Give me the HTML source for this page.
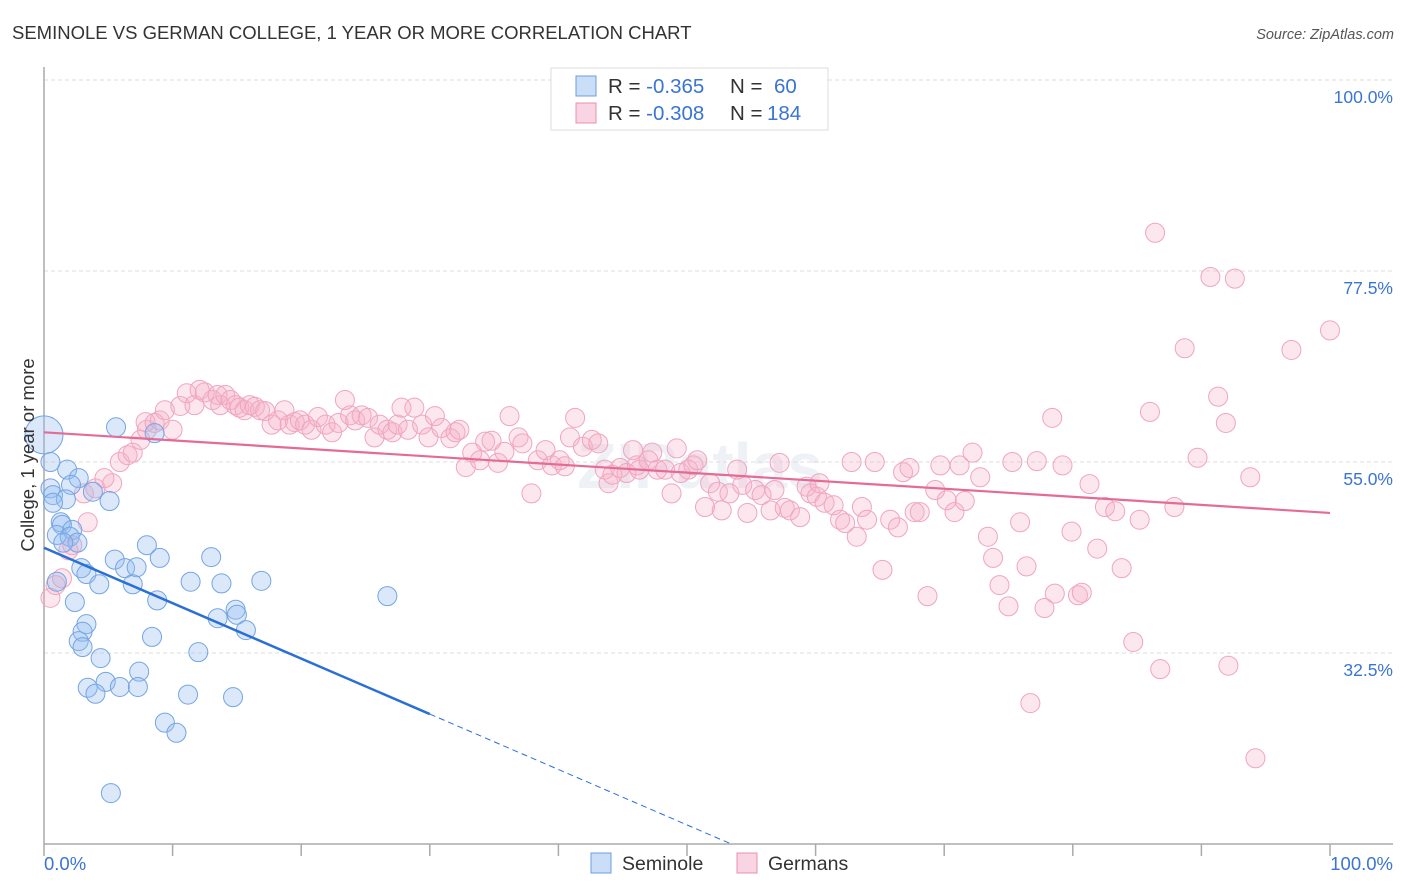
<!DOCTYPE html>
<html><head><meta charset="utf-8"><style>
body{margin:0;background:#fff;font-family:"Liberation Sans",sans-serif;}
svg{display:block}
</style></head><body>
<svg id="chart" width="1406" height="892" viewBox="0 0 1406 892">
<text x="12" y="39" font-size="18.5" fill="#333">SEMINOLE VS GERMAN COLLEGE, 1 YEAR OR MORE CORRELATION CHART</text>
<text x="1394" y="39" font-size="14.5" fill="#555" text-anchor="end" font-style="italic">Source: ZipAtlas.com</text>
<text x="700" y="488" font-size="64" fill="#eef1f5" text-anchor="middle" font-weight="bold">ZIPatlas</text>
<g id="grid"></g>
<g id="axes"></g>
<g id="pts"></g>
<g id="lines"></g>
<text x="34" y="455" font-size="18.5" fill="#333" text-anchor="middle" transform="rotate(-90 34 455)">College, 1 year or more</text>
<g>
<rect x="551" y="68" width="277" height="62" fill="#fff" stroke="#ddd"/>
<rect x="576" y="76" width="20" height="20" fill="rgba(150,190,240,0.5)" stroke="#6a9fe0"/>
<rect x="576" y="103" width="20" height="20" fill="rgba(244,170,198,0.5)" stroke="#e890ad"/>
<text x="608" y="93" font-size="20.5" fill="#333">R = <tspan fill="#3a74d4">-0.365</tspan><tspan x="730">N = </tspan><tspan x="774" fill="#3a74d4">60</tspan></text>
<text x="608" y="120" font-size="20.5" fill="#333">R = <tspan fill="#3a74d4">-0.308</tspan><tspan x="730">N = </tspan><tspan x="767" fill="#3a74d4">184</tspan></text>
</g>
<g>
<rect x="591" y="853" width="20" height="20" fill="rgba(150,190,240,0.5)" stroke="#6a9fe0"/>
<text x="622" y="870" font-size="19.5" fill="#333">Seminole</text>
<rect x="737" y="853" width="20" height="20" fill="rgba(244,170,198,0.5)" stroke="#e890ad"/>
<text x="768" y="870" font-size="19.5" fill="#333">Germans</text>
</g>
</svg>
<script>
const yTicks=[100,77.5,55,32.5];
const xTicks=[0,10,20,30,40,50,60,70,80,90,100];
const blueX=[0.0,5.6,8.6,0.5,1.8,2.7,0.5,0.7,2.1,1.7,3.8,5.1,0.7,1.3,1.4,1.0,2.2,2.0,2.6,1.5,8.0,5.5,9.0,13.0,6.3,7.2,2.9,3.3,11.4,13.8,16.9,4.3,6.9,1.0,2.4,8.8,14.9,15.0,13.5,15.7,3.3,3.0,2.7,3.0,8.4,12.0,4.4,7.4,4.8,3.4,4.0,5.9,7.3,11.2,14.7,9.4,10.3,5.2,26.7];
const blueY=[58.2,59.1,58.4,55.0,54.1,53.1,51.9,51.1,52.3,50.6,51.5,50.4,50.2,47.9,47.6,46.4,47.0,46.2,45.5,45.5,45.2,43.5,43.7,43.8,42.5,42.6,42.5,41.8,40.9,40.7,41.0,40.6,40.6,40.9,38.5,38.7,37.6,37.0,36.6,35.2,35.9,35.0,33.9,33.2,34.4,32.6,31.9,30.3,29.1,28.4,27.7,28.5,28.5,27.6,27.3,24.3,23.1,16.0,39.2];
const pinkX=[0.5,0.9,1.4,1.9,2.2,3.4,3.1,4.0,5.3,4.7,5.9,6.5,6.9,7.5,8.0,7.9,8.6,9.0,9.4,10.0,10.6,11.1,11.7,12.1,12.5,13.1,13.5,13.7,14.1,14.5,14.9,15.2,15.6,16.0,16.4,16.8,17.2,17.7,18.2,18.7,19.1,19.5,19.9,20.3,20.8,21.3,21.9,22.4,22.9,23.4,23.8,24.2,24.7,25.2,25.7,26.1,26.7,27.1,27.5,27.8,28.3,28.8,29.4,29.9,30.4,30.9,31.6,32.0,32.3,32.8,33.3,33.9,34.3,34.8,35.3,35.8,36.2,36.9,37.2,37.9,38.4,39.0,39.5,40.1,40.5,40.9,41.3,41.9,42.6,43.1,43.6,43.9,44.2,44.8,45.3,45.8,46.1,46.3,47.0,47.3,47.7,48.3,48.8,49.2,49.5,50.1,50.5,50.8,51.4,51.8,52.4,52.7,53.3,53.9,54.3,54.7,55.3,55.8,56.5,56.8,57.2,57.6,58.0,58.8,59.3,59.6,60.1,60.3,60.7,61.4,61.9,62.3,62.8,63.2,63.6,64.0,64.6,65.2,65.8,66.4,66.8,67.3,67.7,68.1,68.7,69.3,69.7,70.2,70.8,71.2,71.6,72.2,72.8,73.4,73.8,74.3,75.0,75.3,75.9,76.4,76.7,77.2,77.8,78.4,78.6,79.2,79.9,80.4,80.7,81.3,81.9,82.5,83.3,83.8,84.7,85.2,86.0,86.4,86.8,87.9,88.7,89.7,90.7,91.3,91.9,92.1,92.6,93.8,94.2,97.0,100.0];
const pinkY=[39.0,40.5,41.3,44.6,45.2,47.9,51.3,51.9,52.5,53.1,55.0,55.8,56.1,57.6,58.8,59.7,59.6,59.9,61.1,58.8,61.6,63.1,61.7,63.5,63.2,62.3,62.9,61.7,62.9,62.3,61.7,61.4,61.1,61.7,61.5,61.1,61.0,59.4,59.9,61.1,59.4,59.7,59.9,59.4,58.8,60.3,59.4,58.5,59.6,62.3,60.5,59.9,60.5,60.2,57.9,59.4,58.8,58.5,59.4,61.4,58.8,61.4,59.4,57.9,60.4,59.0,57.8,58.5,58.8,54.4,56.1,55.2,57.4,57.5,54.9,56.2,60.4,57.9,57.2,51.3,55.2,56.4,54.6,55.2,54.5,57.9,60.2,56.8,57.6,57.2,54.1,52.5,53.5,54.3,53.7,56.4,54.6,54.1,55.2,56.1,54.1,54.1,51.3,56.6,53.7,54.1,54.6,55.2,49.7,52.5,51.5,49.3,51.3,54.1,52.3,49.0,51.7,51.1,49.3,51.7,54.9,49.6,49.3,48.5,52.1,51.3,50.9,52.5,50.2,49.9,48.2,47.8,55.0,46.2,49.7,48.2,55.0,42.3,48.2,47.3,53.8,54.3,49.1,49.1,39.2,51.7,54.6,50.5,49.1,54.6,50.4,56.1,53.2,46.2,43.7,40.5,38.0,55.0,47.9,42.7,26.6,55.1,37.8,60.2,39.5,54.6,46.8,39.3,39.6,52.4,44.8,49.7,49.2,42.5,33.8,48.2,60.9,82.0,30.6,49.7,68.4,55.5,76.8,62.7,59.6,31.0,76.6,53.2,20.1,68.2,70.5];
const blueTrend=[44.9,-0.653]; // intercept, slope
const pinkTrend=[58.5,-0.095];
const blueSolidEnd=30;

const NS='http://www.w3.org/2000/svg';
const X=v=>44+v*12.86;
const Y=v=>80+(100-v)*8.489;
function mk(tag,attrs,parent){const e=document.createElementNS(NS,tag);for(const k in attrs)e.setAttribute(k,attrs[k]);document.getElementById(parent).appendChild(e);return e;}

yTicks.forEach(t=>{
  const l=mk('line',{x1:44,x2:1393,y1:Y(t),y2:Y(t),stroke:'#ddd','stroke-dasharray':'4 3'},'grid');
  
  
  const tx=mk('text',{x:1393,y:Y(t)+23,'font-size':17.5,fill:'#3a74d4','text-anchor':'end'},'grid');
  tx.textContent=(t===100?'100.0':t.toFixed(1))+'%';
  
  
});
const ax=mk('line',{x1:44,x2:44,y1:67,y2:Y(10),stroke:'#aaa','stroke-width':1.5},'axes');


const bx=mk('line',{x1:44,x2:1393,y1:Y(10),y2:Y(10),stroke:'#aaa','stroke-width':1.5},'axes');


xTicks.forEach(t=>{
  const l=mk('line',{x1:X(t),x2:X(t),y1:Y(10),y2:Y(10)+12,stroke:'#aaa','stroke-width':1.5},'axes');
  
  
});
const xl0=mk('text',{x:44,y:870,'font-size':18.5,fill:'#3a74d4'},'axes');xl0.textContent='0.0%';


const xl1=mk('text',{x:1393,y:870,'font-size':18.5,fill:'#3a74d4','text-anchor':'end'},'axes');xl1.textContent='100.0%';



pinkX.forEach((v,i)=>{
  const c=mk('circle',{cx:X(v),cy:Y(pinkY[i]),r:9.5,fill:'rgba(246,175,200,0.3)',stroke:'#f0a5bf','stroke-width':1},'pts');
  
  
});
blueX.forEach((v,i)=>{
  const c=mk('circle',{cx:X(v),cy:Y(blueY[i]),r:i===0?19:9.5,fill:'rgba(150,190,240,0.35)',stroke:'#74a5e3','stroke-width':1},'pts');
  
  
});
const bf=x=>blueTrend[0]+blueTrend[1]*x;
const b1=mk('line',{x1:X(0),y1:Y(bf(0)),x2:X(blueSolidEnd),y2:Y(bf(blueSolidEnd)),stroke:'#2a6fd6','stroke-width':2.5},'lines');


const xEnd=(10-blueTrend[0])/blueTrend[1];
const b2=mk('line',{x1:X(blueSolidEnd),y1:Y(bf(blueSolidEnd)),x2:X(xEnd),y2:Y(10),stroke:'#2a6fd6','stroke-width':1,'stroke-dasharray':'6 4'},'lines');


const pf=x=>pinkTrend[0]+pinkTrend[1]*x;
const p1=mk('line',{x1:X(0),y1:Y(pf(0)),x2:X(100),y2:Y(pf(100)),stroke:'#e46b96','stroke-width':2.2},'lines');


</script>
</body></html>
